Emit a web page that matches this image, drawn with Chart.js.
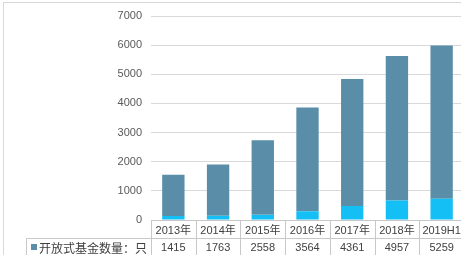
<!DOCTYPE html>
<html>
<head>
<meta charset="utf-8">
<script src="https://cdn.jsdelivr.net/npm/chart.js@4/dist/chart.umd.min.js"></script>
<style>
html,body{margin:0;padding:0;background:#fff;overflow:hidden;width:461px;height:255px;}
canvas{display:block;}
</style>
</head>
<body>
<canvas id="c" width="464" height="255"></canvas>
<script>
const categories = ['2013年','2014年','2015年','2016年','2017年','2018年','2019H1'];
const openFunds = [1415,1763,2558,3564,4361,4957,5259];
const closedFunds = [137,144,176,300,480,670,730];
const seriesNames = ['开放式基金数量：只','封闭式基金数量：只'];
const yMax = 7000;
const yStep = 1000;

const colorOpen = '#5a8ea8';
const colorClosed = '#14bff5';
const lineColor = '#c8c8c8';
const textColor = '#404040';

const frame = {
  id: 'frame',
  beforeDraw(chart) {
    const ctx = chart.ctx;
    ctx.save();
    ctx.fillStyle = '#fff';
    ctx.fillRect(0, 0, chart.width, chart.height);
    ctx.strokeStyle = '#d9d9d9';
    ctx.lineWidth = 1;
    ctx.strokeRect(3.5, 2.5, chart.width + 10, chart.height + 10);
    ctx.restore();
  }
};

const dataTable = {
  id: 'dataTable',
  afterDraw(chart) {
    const ctx = chart.ctx;
    const area = chart.chartArea;
    const xs = chart.scales.x;
    const n = categories.length;
    const colW = (area.right - area.left) / n;
    const top = Math.round(area.bottom) + 0.5;
    const r1 = top + 18;
    const r2 = r1 + 17;
    const r3 = r2 + 17;
    const legendLeft = 26.5;
    ctx.save();
    ctx.strokeStyle = lineColor;
    ctx.lineWidth = 1;
    ctx.beginPath();
    ctx.moveTo(area.left, top); ctx.lineTo(area.right + 2, top);
    [r1, r2, r3].forEach(y => { ctx.moveTo(legendLeft, y); ctx.lineTo(area.right + 2, y); });
    for (let i = 0; i <= n; i++) {
      const x = Math.round(area.left + i * colW) + 0.5;
      ctx.moveTo(x, top); ctx.lineTo(x, r3);
    }
    ctx.moveTo(legendLeft, r1); ctx.lineTo(legendLeft, r3);
    ctx.stroke();

    ctx.fillStyle = textColor;
    ctx.textAlign = 'center';
    ctx.textBaseline = 'middle';
    ctx.font = '11px "Liberation Sans", "Noto Sans CJK SC", sans-serif';
    categories.forEach((c, i) => {
      const x = xs.getPixelForValue(i);
      ctx.fillText(c, x, (top + r1) / 2 + 1);
    });
    const rows = [[openFunds, colorOpen, r1, r2], [closedFunds, colorClosed, r2, r3]];
    rows.forEach(([vals, col, y0, y1], k) => {
      const yc = (y0 + y1) / 2 + 1;
      ctx.fillStyle = textColor;
      ctx.textAlign = 'center';
      ctx.font = '11px "Liberation Sans", sans-serif';
      vals.forEach((v, i) => ctx.fillText(String(v), xs.getPixelForValue(i), yc));
      ctx.fillStyle = col;
      ctx.fillRect(31, yc - 4, 6, 6);
      ctx.fillStyle = textColor;
      ctx.textAlign = 'left';
      ctx.font = '12px "Noto Sans CJK SC", sans-serif';
      ctx.fillText(seriesNames[k], 39, yc);
    });
    ctx.restore();
  }
};

new Chart(document.getElementById('c'), {
  type: 'bar',
  data: {
    labels: categories,
    datasets: [
      { label: seriesNames[1], data: closedFunds, backgroundColor: colorClosed, stack: 's' },
      { label: seriesNames[0], data: openFunds, backgroundColor: colorOpen, stack: 's' }
    ]
  },
  options: {
    responsive: false,
    animation: false,
    devicePixelRatio: 1,
    layout: { padding: { top: 16, right: 0, left: 0, bottom: 0 } },
    plugins: { legend: { display: false }, tooltip: { enabled: false } },
    datasets: { bar: { barPercentage: 0.5, categoryPercentage: 1 } },
    scales: {
      x: {
        stacked: true,
        ticks: { display: false },
        grid: { display: false, drawTicks: false },
        border: { display: false },
        afterFit(s) { s.height = 35; }
      },
      y: {
        stacked: true,
        min: 0, max: yMax,
        ticks: { stepSize: yStep, color: '#595959', padding: 9, callback: v => String(v), font: { size: 11, family: '"Liberation Sans", sans-serif' } },
        grid: { color: '#d9d9d9', drawTicks: false },
        border: { display: false },
        afterFit(s) { s.width = 151; }
      }
    }
  },
  plugins: [frame, dataTable]
});
</script>
</body>
</html>
